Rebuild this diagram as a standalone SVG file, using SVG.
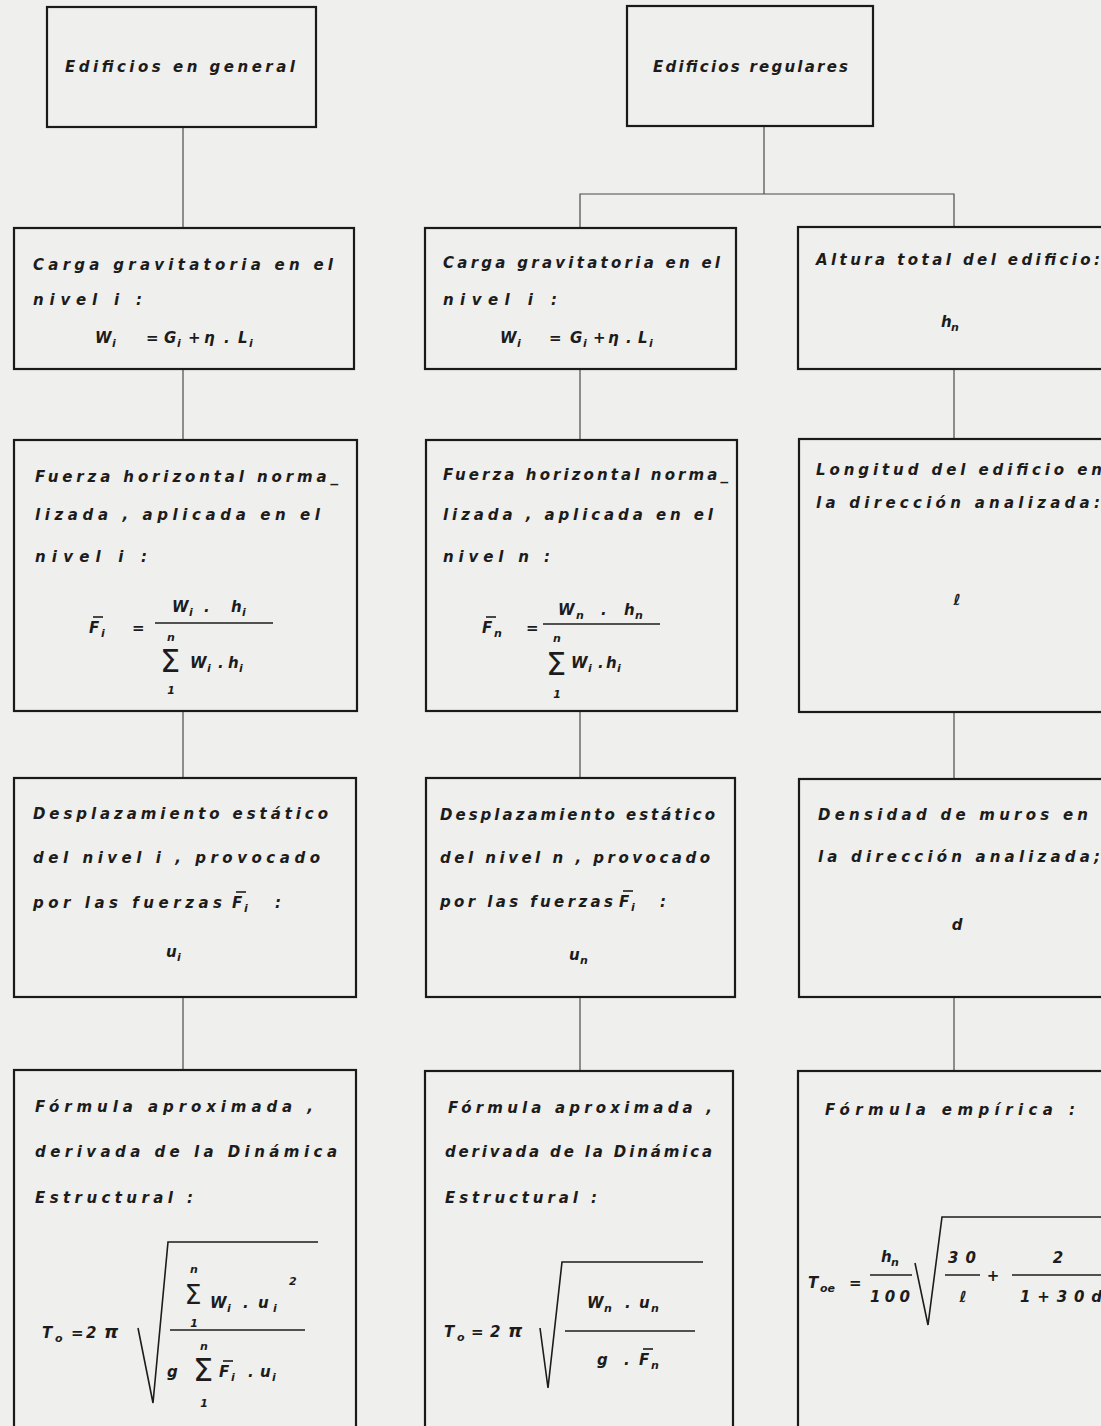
<svg xmlns="http://www.w3.org/2000/svg" width="1101" height="1426" viewBox="0 0 1101 1426">
<style>
.bg{fill:#efefed}
.box{fill:none;stroke:#1a1a1a;stroke-width:2.2}
.ln{fill:none;stroke:#4a4a4a;stroke-width:1.2}
.mt{fill:none;stroke:#1c1c1c;stroke-width:1.6}
.t{font-family:"DejaVu Sans","Liberation Sans",sans-serif;font-style:italic;font-weight:bold;font-size:15px;fill:#1c1c1c}
.m{font-family:"DejaVu Sans","Liberation Sans",sans-serif;font-style:italic;font-weight:bold;font-size:15px;fill:#1c1c1c}
.s{font-family:"DejaVu Sans","Liberation Sans",sans-serif;font-style:italic;font-weight:bold;font-size:11px;fill:#1c1c1c}
.sg{font-family:"DejaVu Sans","Liberation Sans",sans-serif;font-style:normal;font-size:32px;fill:#1c1c1c}
.c{text-anchor:middle}
</style>
<rect class="bg" x="0" y="0" width="1101" height="1426"/>
<g id="connectors">
<path class="ln" d="M183,127 V228"/>
<path class="ln" d="M183,369 V440"/>
<path class="ln" d="M183,711 V778"/>
<path class="ln" d="M183,997 V1070"/>
<path class="ln" d="M764,126 V194"/>
<path class="ln" d="M580,228 V194 H954 V227"/>
<path class="ln" d="M580,369 V440"/>
<path class="ln" d="M580,711 V778"/>
<path class="ln" d="M580,997 V1071"/>
<path class="ln" d="M954,369 V439"/>
<path class="ln" d="M954,712 V779"/>
<path class="ln" d="M954,997 V1071"/>
</g>
<g id="n_general">
<rect class="box" x="47" y="7" width="269" height="120"/>
<text class="t" x="65" y="72" textLength="230" lengthAdjust="spacing">Edificios en general</text>
</g>
<g id="n_regulares">
<rect class="box" x="627" y="6" width="246" height="120"/>
<text class="t" x="653" y="72" textLength="195" lengthAdjust="spacing">Edificios regulares</text>
</g>
<g id="n_c1r1">
<rect class="box" x="14" y="228" width="340" height="141"/>
<text class="t" x="33" y="270" textLength="300" lengthAdjust="spacing">Carga gravitatoria en el</text>
<text class="t" x="33" y="305" textLength="109" lengthAdjust="spacing">nivel  i :</text>
<text class="m" x="95" y="343">W</text><text class="s" x="112" y="347">i</text>
<text class="m" x="146" y="343">=</text>
<text class="m" x="164" y="343">G</text><text class="s" x="177" y="347">i</text>
<text class="m" x="188" y="343">+</text>
<text class="m" x="204" y="343">η</text>
<text class="m" x="224" y="343">.</text>
<text class="m" x="238" y="343">L</text><text class="s" x="249" y="347">i</text>
</g>
<g id="n_c2r1">
<rect class="box" x="425" y="228" width="311" height="141"/>
<text class="t" x="443" y="268" textLength="277" lengthAdjust="spacing">Carga gravitatoria en el</text>
<text class="t" x="443" y="305" textLength="114" lengthAdjust="spacing">nivel  i :</text>
<text class="m" x="500" y="343">W</text><text class="s" x="517" y="347">i</text>
<text class="m" x="549" y="343">=</text>
<text class="m" x="570" y="343">G</text><text class="s" x="583" y="347">i</text>
<text class="m" x="593" y="343">+</text>
<text class="m" x="608" y="343">η</text>
<text class="m" x="626" y="343">.</text>
<text class="m" x="638" y="343">L</text><text class="s" x="649" y="347">i</text>
</g>
<g id="n_c3r1">
<rect class="box" x="798" y="227" width="330" height="142"/>
<text class="t" x="816" y="265" textLength="284" lengthAdjust="spacing">Altura total del edificio:</text>
<text class="m" x="941" y="327">h</text><text class="s" x="951" y="331">n</text>
</g>
<g id="n_c1r2">
<rect class="box" x="14" y="440" width="343" height="271"/>
<text class="t" x="35" y="482" textLength="303" lengthAdjust="spacing">Fuerza horizontal norma_</text>
<text class="t" x="35" y="520" textLength="285" lengthAdjust="spacing">lizada , aplicada en el</text>
<text class="t" x="35" y="562" textLength="112" lengthAdjust="spacing">nivel  i :</text>
<text class="m" x="89" y="633">F</text><path class="mt" d="M93,617 H103"/><text class="s" x="101" y="637">i</text>
<text class="m" x="132" y="633">=</text>
<path class="mt" d="M155,623 H273"/>
<text class="m" x="172" y="612">W</text><text class="s" x="189" y="616">i</text>
<text class="m" x="204" y="612">.</text>
<text class="m" x="231" y="612">h</text><text class="s" x="242" y="616">i</text>
<text class="s c" x="171" y="641">n</text>
<text class="sg c" x="170" y="672">Σ</text>
<text class="s c" x="171" y="694">1</text>
<text class="m" x="190" y="668">W</text><text class="s" x="207" y="672">i</text>
<text class="m" x="218" y="668">.</text>
<text class="m" x="228" y="668">h</text><text class="s" x="239" y="672">i</text>
</g>
<g id="n_c2r2">
<rect class="box" x="426" y="440" width="311" height="271"/>
<text class="t" x="443" y="480" textLength="285" lengthAdjust="spacing">Fuerza horizontal norma_</text>
<text class="t" x="443" y="520" textLength="270" lengthAdjust="spacing">lizada , aplicada en el</text>
<text class="t" x="443" y="562" textLength="107" lengthAdjust="spacing">nivel  n :</text>
<text class="m" x="482" y="633">F</text><path class="mt" d="M486,617 H496"/><text class="s" x="494" y="637">n</text>
<text class="m" x="526" y="633">=</text>
<path class="mt" d="M543,624 H660"/>
<text class="m" x="558" y="615">W</text><text class="s" x="576" y="619">n</text>
<text class="m" x="601" y="615">.</text>
<text class="m" x="624" y="615">h</text><text class="s" x="635" y="619">n</text>
<text class="s c" x="557" y="642">n</text>
<text class="sg c" x="556" y="675">Σ</text>
<text class="s c" x="557" y="698">1</text>
<text class="m" x="571" y="668">W</text><text class="s" x="588" y="672">i</text>
<text class="m" x="598" y="668">.</text>
<text class="m" x="606" y="668">h</text><text class="s" x="617" y="672">i</text>
</g>
<g id="n_c3r2">
<rect class="box" x="799" y="439" width="330" height="273"/>
<text class="t" x="816" y="475" textLength="286" lengthAdjust="spacing">Longitud del edificio en</text>
<text class="t" x="816" y="508" textLength="284" lengthAdjust="spacing">la dirección analizada:</text>
<text class="m c" x="957" y="605">ℓ</text>
</g>
<g id="n_c1r3">
<rect class="box" x="14" y="778" width="342" height="219"/>
<text class="t" x="33" y="819" textLength="295" lengthAdjust="spacing">Desplazamiento estático</text>
<text class="t" x="33" y="863" textLength="287" lengthAdjust="spacing">del nivel i , provocado</text>
<text class="t" x="33" y="908" textLength="189" lengthAdjust="spacing">por las fuerzas</text>
<text class="m" x="232" y="908">F</text><path class="mt" d="M236,892 H246"/><text class="s" x="244" y="912">i</text>
<text class="t" x="275" y="908">:</text>
<text class="m" x="166" y="957">u</text><text class="s" x="177" y="961">i</text>
</g>
<g id="n_c2r3">
<rect class="box" x="426" y="778" width="309" height="219"/>
<text class="t" x="440" y="820" textLength="275" lengthAdjust="spacing">Desplazamiento estático</text>
<text class="t" x="440" y="863" textLength="270" lengthAdjust="spacing">del nivel n , provocado</text>
<text class="t" x="440" y="907" textLength="173" lengthAdjust="spacing">por las fuerzas</text>
<text class="m" x="619" y="907">F</text><path class="mt" d="M623,891 H633"/><text class="s" x="631" y="911">i</text>
<text class="t" x="660" y="907">:</text>
<text class="m" x="569" y="960">u</text><text class="s" x="580" y="964">n</text>
</g>
<g id="n_c3r3">
<rect class="box" x="799" y="779" width="330" height="218"/>
<text class="t" x="818" y="820" textLength="270" lengthAdjust="spacing">Densidad de muros en</text>
<text class="t" x="818" y="862" textLength="282" lengthAdjust="spacing">la dirección analizada;</text>
<text class="m c" x="957" y="930">d</text>
</g>
<g id="n_c1r4">
<rect class="box" x="14" y="1070" width="342" height="380"/>
<text class="t" x="35" y="1112" textLength="278" lengthAdjust="spacing">Fórmula aproximada ,</text>
<text class="t" x="35" y="1157" textLength="302" lengthAdjust="spacing">derivada de la Dinámica</text>
<text class="t" x="35" y="1203" textLength="158" lengthAdjust="spacing">Estructural :</text>
<text class="m" x="42" y="1338">T</text><text class="s" x="55" y="1342">o</text>
<text class="m" x="71" y="1338">=</text>
<text class="m" x="86" y="1338">2</text>
<text class="m" x="104" y="1338" style="font-size:18px">π</text>
<path class="mt" d="M138,1328 L153,1403 L168,1242 H318"/>
<path class="mt" d="M170,1330 H305"/>
<text class="s c" x="194" y="1273">n</text>
<text class="sg c" x="193" y="1304" style="font-size:27px">Σ</text>
<text class="s c" x="194" y="1327">1</text>
<text class="m" x="210" y="1308">W</text><text class="s" x="227" y="1312">i</text>
<text class="m" x="243" y="1308">.</text>
<text class="m" x="258" y="1308">u</text><text class="s" x="273" y="1312">i</text>
<text class="s" x="289" y="1285">2</text>
<text class="m" x="167" y="1377">g</text>
<text class="s c" x="204" y="1350">n</text>
<text class="sg c" x="203" y="1381">Σ</text>
<text class="s c" x="204" y="1407">1</text>
<text class="m" x="219" y="1377">F</text><path class="mt" d="M223,1361 H233"/><text class="s" x="231" y="1381">i</text>
<text class="m" x="248" y="1377">.</text>
<text class="m" x="260" y="1377">u</text><text class="s" x="272" y="1381">i</text>
</g>
<g id="n_c2r4">
<rect class="box" x="425" y="1071" width="308" height="380"/>
<text class="t" x="448" y="1113" textLength="264" lengthAdjust="spacing">Fórmula aproximada ,</text>
<text class="t" x="445" y="1157" textLength="267" lengthAdjust="spacing">derivada de la Dinámica</text>
<text class="t" x="445" y="1203" textLength="152" lengthAdjust="spacing">Estructural :</text>
<text class="m" x="444" y="1337">T</text><text class="s" x="457" y="1341">o</text>
<text class="m" x="471" y="1337">=</text>
<text class="m" x="490" y="1337">2</text>
<text class="m" x="508" y="1337" style="font-size:18px">π</text>
<path class="mt" d="M540,1328 L548,1388 L562,1262 H703"/>
<path class="mt" d="M565,1331 H695"/>
<text class="m" x="587" y="1308">W</text><text class="s" x="604" y="1312">n</text>
<text class="m" x="625" y="1308">.</text>
<text class="m" x="639" y="1308">u</text><text class="s" x="651" y="1312">n</text>
<text class="m" x="597" y="1365">g</text>
<text class="m" x="624" y="1365">.</text>
<text class="m" x="639" y="1365">F</text><path class="mt" d="M643,1349 H653"/><text class="s" x="651" y="1369">n</text>
</g>
<g id="n_c3r4">
<rect class="box" x="798" y="1071" width="330" height="380"/>
<text class="t" x="825" y="1115" textLength="250" lengthAdjust="spacing">Fórmula empírica :</text>
<text class="m" x="808" y="1288">T</text><text class="s" x="820" y="1292">oe</text>
<text class="m" x="849" y="1288">=</text>
<text class="m" x="881" y="1262">h</text><text class="s" x="891" y="1266">n</text>
<path class="mt" d="M870,1275 H912"/>
<text class="m" x="870" y="1302" textLength="40" lengthAdjust="spacing">100</text>
<path class="mt" d="M915,1263 L928,1325 L942,1217 H1110"/>
<text class="m" x="948" y="1263" textLength="28" lengthAdjust="spacing">30</text>
<path class="mt" d="M945,1275 H980"/>
<text class="m c" x="963" y="1302">ℓ</text>
<text class="m c" x="993" y="1281">+</text>
<path class="mt" d="M1012,1275 H1110"/>
<text class="m c" x="1058" y="1263">2</text>
<text class="m" x="1020" y="1302" textLength="82" lengthAdjust="spacing">1+30d</text>
</g>
</svg>
